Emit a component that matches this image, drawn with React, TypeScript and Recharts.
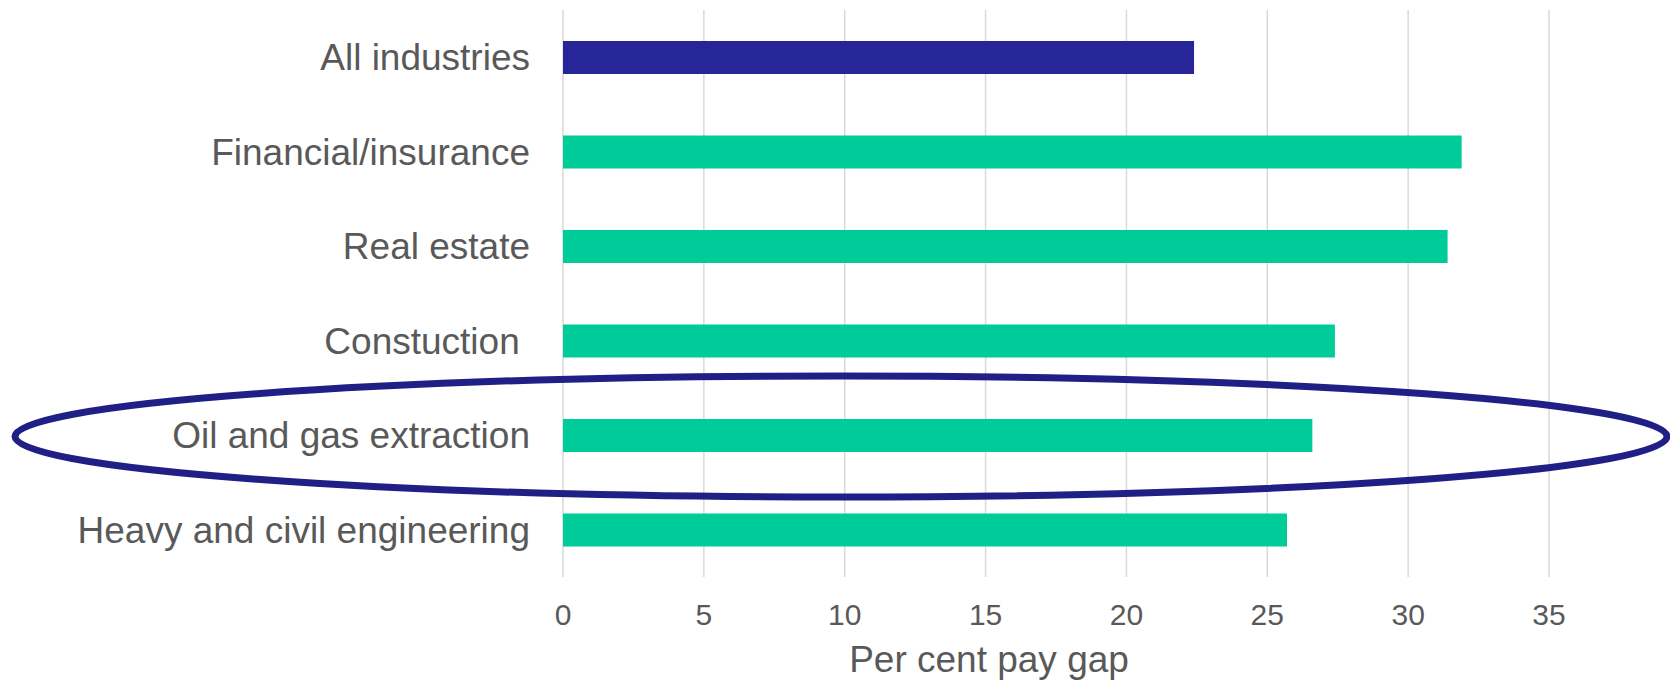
import { BarChart, Bar, Cell, XAxis, YAxis, CartesianGrid, Label } from 'recharts'

const industries = [
  'All industries',
  'Financial/insurance',
  'Real estate',
  'Constuction\u00a0',
  'Oil and gas extraction',
  'Heavy and civil engineering',
]
const payGap = [22.4, 31.9, 31.4, 27.4, 26.6, 25.7]
const xTicks = [0, 5, 10, 15, 20, 25, 30, 35]
const xTitle = 'Per cent pay gap'

const NAVY = '#262699'
const TEAL = '#00cc99'
const TEXT = '#595959'
const FONT = '"Liberation Sans", Arial, sans-serif'

const data = industries.map((name, i) => ({ name, gap: payGap[i] }))

function AxisTitle(props: any) {
  const vb = props.viewBox
  return (
    <text
      x={vb.x + vb.width / 2 - 67}
      y={vb.y + vb.height - 17}
      textAnchor="middle"
      fill={TEXT}
      fontSize={37}
      fontFamily={FONT}
    >
      {xTitle}
    </text>
  )
}

export default function App() {
  return (
    <div style={{ position: 'relative', width: 1670, height: 689, overflow: 'hidden', fontFamily: FONT }}>
      <style>{'html,body{margin:0;padding:0;overflow:hidden}'}</style>
      <BarChart
        width={1670}
        height={689}
        data={data}
        layout="vertical"
        margin={{ top: 10, right: 121, left: 0, bottom: 0 }}
      >
        <CartesianGrid horizontal={false} stroke="#d9d9d9" strokeWidth={1.5} />
        <XAxis
          type="number"
          domain={[0, 35]}
          ticks={xTicks}
          axisLine={false}
          tickLine={false}
          tickMargin={21}
          height={112}
          tick={{ fill: TEXT, fontSize: 30, fontFamily: FONT }}
        >
          <Label content={AxisTitle} />
        </XAxis>
        <YAxis
          type="category"
          dataKey="name"
          width={563}
          axisLine={false}
          tickLine={false}
          tickMargin={27}
          interval={0}
          tick={{ fill: TEXT, fontSize: 37, fontFamily: FONT }}
        />
        <Bar dataKey="gap" barSize={33} isAnimationActive={false}>
          {data.map((d, i) => (
            <Cell key={d.name} fill={i === 0 ? NAVY : TEAL} />
          ))}
        </Bar>
      </BarChart>
      {/* annotation ring around the oil and gas row */}
      <svg
        width={1670}
        height={689}
        style={{ position: 'absolute', left: 0, top: 0, pointerEvents: 'none' }}
      >
        <ellipse cx={841} cy={436.5} rx={826} ry={60.5} fill="none" stroke="#1f1f85" strokeWidth={7} />
      </svg>
    </div>
  )
}
